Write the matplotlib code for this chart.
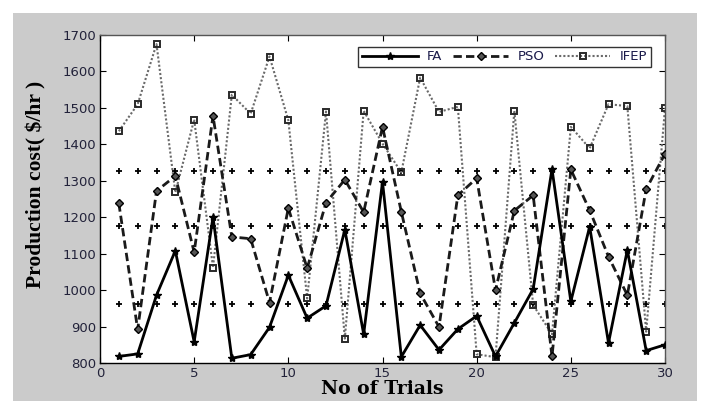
import matplotlib.pyplot as plt
from matplotlib.patches import Rectangle

trials = list(range(1, 31))

fa = [818, 825, 986, 1108, 858, 1200, 813, 823, 898, 1041,
      923, 957, 1166, 879, 1297, 817, 904, 836, 893, 929,
      818, 910, 1003, 1332, 969, 1174, 855, 1110, 834, 850]

pso = [1238, 892, 1272, 1313, 1104, 1478, 1146, 1141, 966, 1225,
       1060, 1240, 1303, 1214, 1448, 1215, 991, 899, 1260, 1307,
       1000, 1218, 1260, 818, 1331, 1219, 1092, 986, 1277, 1374]

ifep = [1436, 1510, 1675, 1268, 1468, 1062, 1536, 1484, 1641, 1466,
        977, 1490, 867, 1492, 1402, 1323, 1583, 1489, 1503, 824,
        816, 1492, 959, 879, 1448, 1389, 1510, 1505, 886, 1499]

# constant reference rows drawn with "+" marks
ref_levels = [1328, 1176, 962]

fig = plt.figure(figsize=(7.03, 4.01), dpi=100)
fig.patch.set_facecolor("white")

# gray MATLAB-style figure panel
bg = fig.add_axes([0, 0, 1, 1], zorder=-1)
bg.axis("off")
bg.add_patch(Rectangle((13 / 703, 0), 684 / 703, 388 / 401,
                       transform=bg.transAxes, facecolor="#cbcbcb",
                       edgecolor="none"))

ax = fig.add_axes([100 / 703, 1 - 363 / 401, 565 / 703, 328 / 401], zorder=2)
ax.set_facecolor("white")

for lvl in ref_levels:
    ax.plot(trials, [lvl] * len(trials), linestyle="none", marker="+",
            color="black", markersize=4, markeredgewidth=1.3, zorder=1)

ax.plot(trials, ifep, linestyle=(0, (1, 1)), color="#6a6a6a", linewidth=1.5,
        marker="s", markersize=4.5, markerfacecolor="none",
        markeredgecolor="#2a2a2a", markeredgewidth=1.4, label="IFEP", zorder=2)
ax.plot(trials, pso, linestyle=(0, (3, 1.5)), color="#1a1a1a", linewidth=2.0,
        marker="D", markersize=4.5, markerfacecolor="#555555",
        markeredgecolor="black", label="PSO", zorder=3)
ax.plot(trials, fa, linestyle="-", color="black", linewidth=2.0,
        marker="*", markersize=6, markerfacecolor="black",
        markeredgecolor="black", label="FA", zorder=4)

ax.set_xlim(0, 30)
ax.set_ylim(800, 1700)
ax.set_xticks(range(0, 31, 5))
ax.set_yticks(range(800, 1701, 100))
ax.tick_params(direction="in", top=True, right=True, length=4,
               labelsize=9.5, labelcolor="#22223a", pad=3)
for s in ax.spines.values():
    s.set_linewidth(1.0)
ax.spines["top"].set_color("#555555")
ax.spines["right"].set_color("#555555")

ax.set_xlabel("No of Trials", fontsize=13.5, fontweight="bold",
              family="DejaVu Serif", labelpad=0)
ax.set_ylabel("Production cost( $/hr )", fontsize=15.5, fontweight="bold",
              family="Liberation Serif")
ax.yaxis.set_label_coords(-0.094, 0.546)

handles, labels = ax.get_legend_handles_labels()
order = [2, 1, 0]
leg = ax.legend([handles[i] for i in order], [labels[i] for i in order],
                loc="upper right", ncol=3, fontsize=9.5, frameon=True,
                fancybox=False, edgecolor="black", handlelength=4.2,
                columnspacing=0.8, borderpad=0.3, handletextpad=0.7,
                bbox_to_anchor=(0.987, 0.985))
leg.get_frame().set_linewidth(1.0)
for t in leg.get_texts():
    t.set_color("#1a1a4a")

fig.savefig("out.png", dpi=100)
